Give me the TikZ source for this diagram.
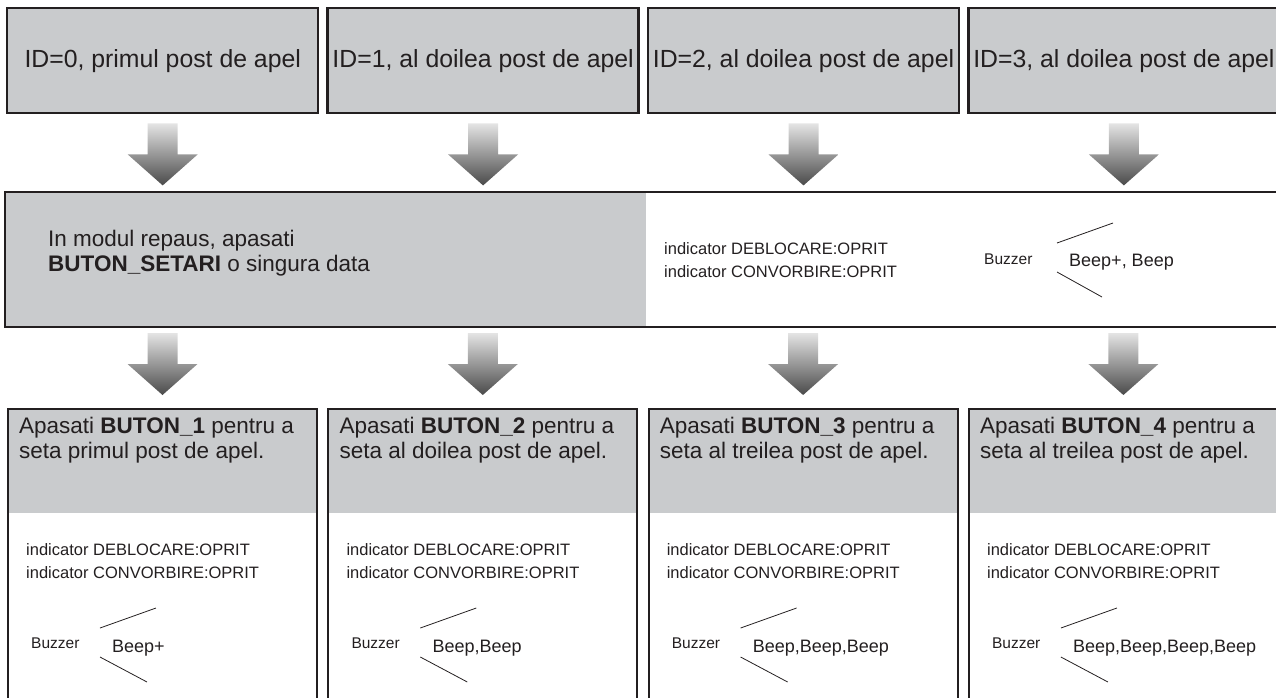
\documentclass[tikz,border=0pt]{standalone}
\usepackage{fontspec}
\setmainfont{Liberation Sans}
\usetikzlibrary{calc}

\definecolor{ink}{HTML}{231F20}
\definecolor{boxgray}{HTML}{C9CBCD}
\definecolor{arrowtop}{HTML}{E4E4E4}
\definecolor{arrowbot}{HTML}{4A4A4A}

\tikzset{
  idbox/.style={draw=ink, line width=2.4pt, fill=boxgray, anchor=north west, inner sep=0pt,
    minimum width=311pt, minimum height=105pt, text=ink, font=\fontsize{24.8}{28}\selectfont},
  setbox/.style={draw=ink, line width=2pt, anchor=north west, inner sep=0pt,
    minimum width=309pt, minimum height=300pt},
  headtext/.style={anchor=west, align=left, inner sep=0pt, text=ink, font=\fontsize{22.5}{24.5}\selectfont},
  ledtext/.style={anchor=west, align=left, inner sep=0pt, text=ink, font=\fontsize{16.5}{23}\selectfont},
  buzztext/.style={anchor=west, inner sep=0pt, text=ink, font=\fontsize{15.5}{18}\selectfont},
  beeptext/.style={anchor=west, inner sep=0pt, text=ink, font=\fontsize{18}{21}\selectfont},
  slash/.style={ink, line width=0.8pt}
}

% shaded block arrow, tip below the given anchor
\newcommand{\shadedarrow}[2]{%
  \coordinate (tip) at ($(#1)+(0,#2)$);
  \shade[top color=arrowtop, bottom color=arrowbot]
    ($(tip)+(-15,-62)$) -- ($(tip)+(15,-62)$) -- ($(tip)+(15,-31)$) -- ($(tip)+(35,-31)$)
    -- (tip) -- ($(tip)+(-35,-31)$) -- ($(tip)+(-15,-31)$) -- cycle;}

\begin{document}
\begin{tikzpicture}[x=1pt,y=-1pt]
  \useasboundingbox (0,0) rectangle (1276,697);
  \clip (0,0) rectangle (1276,697);

  % top row
  \foreach \i/\txt in {1/{ID=0, primul post de apel},2/{ID=1, al doilea post de apel},
                       3/{ID=2, al doilea post de apel},4/{ID=3, al doilea post de apel}}
    \node[idbox] (id\i) at ({6+320.4*(\i-1)},7) {\txt};

  % middle band
  \fill[boxgray] (5,192) rectangle (646,327);
  \draw[ink, line width=2pt] (1290,192) -- (5,192) -- (5,327) -- (1290,327);
  \node[headtext] (rest) at (48,253) {In modul repaus, apasati\\\textbf{BUTON\_SETARI} o singura data};
  \node[ledtext] (led0) at (664,260) {indicator DEBLOCARE:OPRIT\\indicator CONVORBIRE:OPRIT};
  \node[buzztext] (buzz0) at (984,259) {Buzzer};
  \node[beeptext] (beep0) at (1069,262) {Beep+, Beep};
  \draw[slash] ($(beep0.west)+(-12,-19)$) -- ++(56,-20);
  \draw[slash] ($(beep0.west)+(-12,10)$) -- ++(45,25);

  % bottom row
  \foreach \i/\post/\beep in {1/primul/Beep+,2/al doilea/{Beep,Beep},
                              3/al treilea/{Beep,Beep,Beep},4/al treilea/{Beep,Beep,Beep,Beep}} {
    \pgfmathsetmacro\lx{7+320.3*(\i-1)}
    \fill[boxgray] (\lx,408) rectangle ++(309,105);
    \node[setbox] (set\i) at (\lx,408) {};
    \node[headtext] (head\i) at ($(set\i.north west)+(12,32)$) {Apasati \textbf{BUTON\_\i} pentru a\\seta \post\ post de apel.};
    \node[ledtext] (led\i) at ($(set\i.north west)+(19,153)$) {indicator DEBLOCARE:OPRIT\\indicator CONVORBIRE:OPRIT};
    \node[buzztext] (buzz\i) at ($(set\i.north west)+(24,235)$) {Buzzer};
    \node[beeptext] (beep\i) at ($(set\i.north west)+(105,240)$) {\beep};
    \draw[slash] ($(beep\i.west)+(-12,-20)$) -- ++(56,-20);
    \draw[slash] ($(beep\i.west)+(-12,9)$) -- ++(47,25);
  }

  % arrows
  \foreach \i in {1,...,4} {
    \shadedarrow{id\i.south}{71}
    \shadedarrow{set\i.north}{-13}
  }
\end{tikzpicture}
\end{document}
